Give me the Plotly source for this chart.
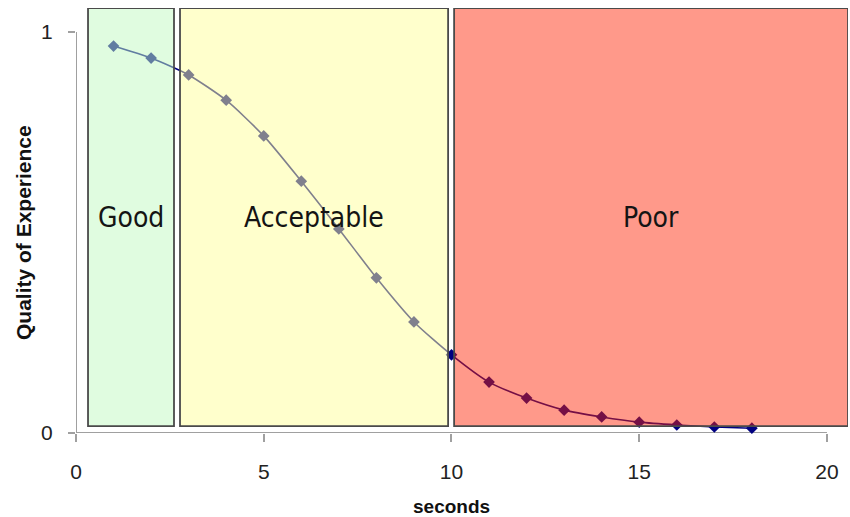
import plotly.graph_objects as go

# data
seconds = list(range(1, 19))
qoe = [0.965, 0.935, 0.893, 0.830, 0.741, 0.628, 0.509, 0.387, 0.277, 0.195,
       0.127, 0.087, 0.057, 0.040, 0.027, 0.020, 0.015, 0.012]

zone_names = ["Good", "Acceptable", "Poor"]
zone_x0 = [0.32, 2.77, 10.07]
zone_x1 = [2.61, 9.91, 20.56]
zone_y0 = 0.017
zone_y1 = 1.06
zone_fill = ["rgba(193,249,193,0.5)", "rgba(255,255,153,0.5)", "rgba(255,32,0,0.46)"]

x_ticks = [0, 5, 10, 15, 20]
y_ticks = [0, 1]

fig = go.Figure()
fig.add_trace(go.Scatter(
    x=seconds, y=qoe, mode="lines+markers",
    line=dict(color="#000080", width=1.6, shape="spline", smoothing=0.6),
    marker=dict(symbol="diamond", size=9, color="#000080"),
    cliponaxis=False, showlegend=False, hoverinfo="x+y",
))

shapes = []
annotations = []
for name, a, b, fc in zip(zone_names, zone_x0, zone_x1, zone_fill):
    shapes.append(dict(type="rect", xref="x", yref="y", x0=a, x1=b, y0=zone_y0, y1=zone_y1,
                       fillcolor=fc, line=dict(color="#4a4a4a", width=1.8), layer="above"))
    annotations.append(dict(x=(a + b) / 2, y=(zone_y0 + zone_y1) / 2, xref="x", yref="y",
                            text=name, showarrow=False,
                            font=dict(family="DejaVu Sans Condensed, sans-serif",
                                      size=28, color="#141414")))

# axis lines limited to 0..20 and 0..1
shapes.append(dict(type="line", xref="x", yref="y", x0=0, x1=20, y0=0, y1=0,
                   line=dict(color="#a0a0a0", width=2), layer="below"))
shapes.append(dict(type="line", xref="x", yref="y", x0=0, x1=0, y0=0, y1=1,
                   line=dict(color="#a0a0a0", width=2), layer="below"))

annotations.append(dict(x=10, y=-0.172, xref="x", yref="paper", yanchor="middle",
                        text="<b>seconds</b>", showarrow=False,
                        font=dict(family="Liberation Sans, Arial, sans-serif", size=19, color="#111")))
annotations.append(dict(x=-0.068, y=0.5, xref="paper", yref="y", xanchor="center",
                        text="<b>Quality of Experience</b>", showarrow=False, textangle=-90,
                        font=dict(family="Liberation Sans, Arial, sans-serif", size=21, color="#111")))

fig.update_layout(
    width=850, height=517,
    margin=dict(l=76, r=2, t=8, b=84),
    paper_bgcolor="white", plot_bgcolor="white",
    shapes=shapes, annotations=annotations,
    xaxis=dict(range=[0, 20.56], tickvals=x_ticks, showgrid=False, zeroline=False, showline=False,
               ticks="outside", ticklen=8, tickwidth=1.5, tickcolor="#a0a0a0",
               ticklabelstandoff=12,
               tickfont=dict(family="Liberation Sans, Arial, sans-serif", size=21, color="#222")),
    yaxis=dict(range=[0, 1.06], tickvals=y_ticks, showgrid=False, zeroline=False, showline=False,
               ticks="outside", ticklen=7, tickwidth=1.5, tickcolor="#a0a0a0",
               ticklabelstandoff=11,
               tickfont=dict(family="Liberation Sans, Arial, sans-serif", size=21, color="#222")),
)

fig.write_html("out.html")
